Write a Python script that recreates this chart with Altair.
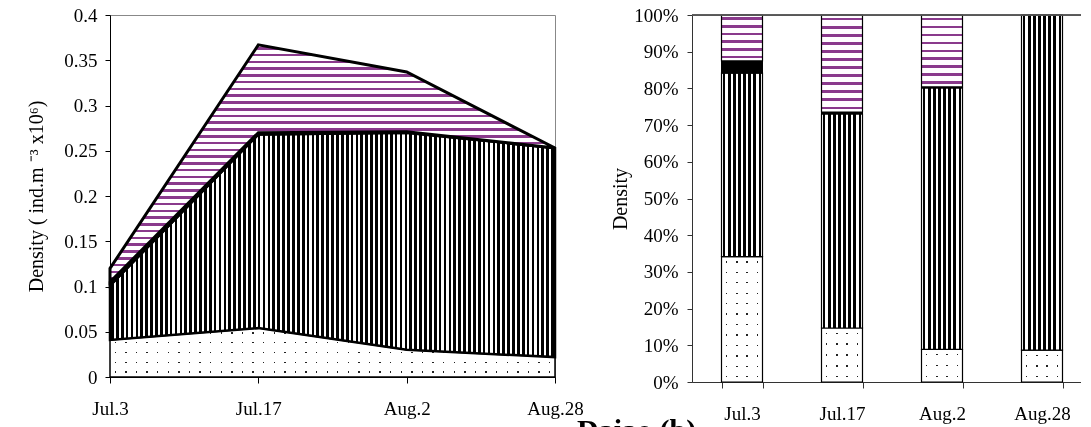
import altair as alt
import pandas as pd

# ---------------- data ----------------
dates = ["Jul.3", "Jul.17", "Aug.2", "Aug.28"]
series = ["dots", "stripes", "solid", "wavy"]
dots = [0.041, 0.054, 0.030, 0.022]
stripes = [0.060, 0.214, 0.240, 0.231]
solid = [0.004, 0.002, 0.001, 0.0]
wavy = [0.015, 0.097, 0.066, 0.0]
values = {"dots": dots, "stripes": stripes, "solid": solid, "wavy": wavy}

y_ticks = [0, 0.05, 0.1, 0.15, 0.2, 0.25, 0.3, 0.35, 0.4]
pct_ticks = [0, 0.1, 0.2, 0.3, 0.4, 0.5, 0.6, 0.7, 0.8, 0.9, 1.0]

rows = []
for i, d in enumerate(dates):
    total = sum(values[s][i] for s in series)
    cum = 0.0
    for s in series:
        v = values[s][i]
        rows.append(dict(date=d, series=s, y0=cum, y1=cum + v,
                         p0=cum / total, p1=(cum + v) / total))
        cum += v
df = pd.DataFrame(rows)

FONT = "Liberation Serif"
LEFT_W, LEFT_H = 445, 362
RIGHT_W, RIGHT_H = 400, 367
PURPLE = "#8a3a8c"


def grad(n, frac, ink, paper="white", direction="x"):
    stops = []
    for i in range(n):
        a = i / n
        c = (i + 1) / n
        m = (a + c) / 2
        h = frac / n / 2
        stops += [
            alt.GradientStop(offset=a, color=paper),
            alt.GradientStop(offset=m - h, color=paper),
            alt.GradientStop(offset=m - h, color=ink),
            alt.GradientStop(offset=m + h, color=ink),
            alt.GradientStop(offset=m + h, color=paper),
            alt.GradientStop(offset=c, color=paper),
        ]
    x2, y2 = (1, 0) if direction == "x" else (0, 1)
    return alt.LinearGradient(gradient="linear", stops=stops, x1=0, y1=0, x2=x2, y2=y2)


# ---------------- left: stacked area ----------------
lx = alt.X("date:N", sort=dates, title=None,
           scale=alt.Scale(type="point", padding=0),
           axis=alt.Axis(labelAngle=0, labelPadding=16, tickSize=6, tickColor="black",
                         domainColor="black", labelFont=FONT, labelFontSize=19,
                         labelColor="black"))
ly = alt.Y("y1:Q", scale=alt.Scale(domain=[0, 0.4], nice=False),
           title="Density ( ind.m ⁻³ x10⁶)",
           axis=alt.Axis(values=y_ticks, format="~g", grid=False, tickSize=5,
                         tickColor="black", domainColor="black", labelFont=FONT,
                         labelFontSize=19, labelColor="black", titleFont=FONT,
                         titleFontSize=20, titleFontWeight="normal", titleColor="black",
                         titlePadding=17, labelPadding=8, labelOverlap=False))

lbase = alt.Chart(df).encode(x=lx, y=ly, y2="y0:Q")


def px_left(v):
    return v / 0.4 * LEFT_H


sub = df[df.series == "dots"]
dh = px_left(sub.y1.max())
dots_a = lbase.transform_filter(alt.datum.series == "dots").mark_area(
    fill=grad(round(LEFT_W / 10.5), 0.13, "#222", direction="x"))
dots_b = lbase.transform_filter(alt.datum.series == "dots").mark_area(
    fill=grad(max(1, round(dh / 10.5)), 0.13, "#222", direction="y"), blend="lighten")
dots_line = lbase.transform_filter(alt.datum.series == "dots").mark_area(
    fillOpacity=0, stroke="black", strokeWidth=1.5)

str_area = lbase.transform_filter(alt.datum.series == "stripes").mark_area(
    fill=grad(round(LEFT_W / 4.9), 0.55, "black", direction="x"),
    stroke="black", strokeWidth=2.5)
solid_area = lbase.transform_filter(alt.datum.series == "solid").mark_area(
    fill="black", stroke="black", strokeWidth=2.5)
sw = df[df.series == "wavy"]
wh = px_left(sw.y1.max() - sw.y0.min())
wavy_area = lbase.transform_filter(alt.datum.series == "wavy").mark_area(
    fill=grad(max(1, round(wh / 6.7)), 0.38, PURPLE, direction="y"),
    stroke="black", strokeWidth=3)

left = alt.layer(dots_a, dots_b, dots_line, str_area, solid_area, wavy_area).properties(
    width=LEFT_W, height=LEFT_H)

# ---------------- right: 100% stacked bars ----------------
rx = alt.X("date:N", sort=dates, title=None,
           scale=alt.Scale(type="band", paddingInner=0.59, paddingOuter=0.295),
           axis=alt.Axis(labelAngle=0, labelPadding=16, tickSize=6, tickBand="extent",
                         tickColor="#333", domainColor="#333", labelFont=FONT,
                         labelFontSize=19, labelColor="black"))
r_scale = alt.Scale(domain=[0, 1], nice=False)
r_axis = alt.Axis(values=pct_ticks, format=".0%", grid=False, tickSize=5,
                  tickColor="#333", domainColor="#333", labelFont=FONT,
                  labelFontSize=19, labelColor="black", titleFont=FONT,
                  titleFontSize=20, titleFontWeight="normal", titleColor="black",
                  titlePadding=3, labelPadding=9, labelOverlap=False, tickCount=11)
ry = alt.Y("p1:Q", scale=r_scale, title="Density", axis=r_axis)
rbase = alt.Chart(df).encode(x=rx, y=ry, y2="p0:Q")

bar_w = RIGHT_W / 4 * 0.41
rlayers = [
    rbase.transform_filter(alt.datum.series == "dots").mark_bar(
        fill=grad(max(1, round(bar_w / 10.5)), 0.14, "#222", direction="x"))
]
for i, d in enumerate(dates):
    r = df[(df.series == "dots") & (df.date == d)].iloc[0]
    h = (r.p1 - r.p0) * RIGHT_H
    rlayers.append(
        rbase.transform_filter((alt.datum.series == "dots") & (alt.datum.date == d)).mark_bar(
            fill=grad(max(1, round(h / 10.5)), 0.13, "#222", direction="y"), blend="lighten"))
rlayers.append(rbase.transform_filter(alt.datum.series == "dots").mark_bar(
    fillOpacity=0, stroke="black", strokeWidth=1.2))
rlayers.append(rbase.transform_filter(alt.datum.series == "stripes").mark_bar(
    fill=grad(8, 0.55, "black", direction="x"), stroke="black", strokeWidth=1.2))
rlayers.append(rbase.transform_filter(alt.datum.series == "solid").mark_bar(
    fill="black", stroke="black", strokeWidth=1))
for i, d in enumerate(dates):
    r = df[(df.series == "wavy") & (df.date == d)].iloc[0]
    h = (r.p1 - r.p0) * RIGHT_H
    if h <= 0:
        continue
    rlayers.append(
        rbase.transform_filter((alt.datum.series == "wavy") & (alt.datum.date == d)).mark_bar(
            fill=grad(max(1, round(h / 8.0)), 0.36, PURPLE, direction="y"),
            stroke="black", strokeWidth=1.2))
top_line = alt.Chart(df).transform_filter(alt.datum.series == "wavy").mark_rule(
    color="#555", strokeWidth=1).encode(
    y=alt.Y("p1:Q", scale=r_scale, title="Density", axis=r_axis))

right = alt.layer(*rlayers, top_line).properties(width=RIGHT_W, height=RIGHT_H)

chart = alt.hconcat(left, right, spacing=26).configure_view(
    stroke="#888", strokeWidth=1
).properties(
    title=alt.TitleParams("Daiao (b)", orient="bottom", anchor="middle", font=FONT,
                          fontSize=30, fontWeight="bold", color="black", offset=-8, dx=77),
    padding={"left": 18, "top": -3, "right": -12, "bottom": 0},
)

chart.save("out.html", embed_options={"renderer": "svg", "actions": False})
